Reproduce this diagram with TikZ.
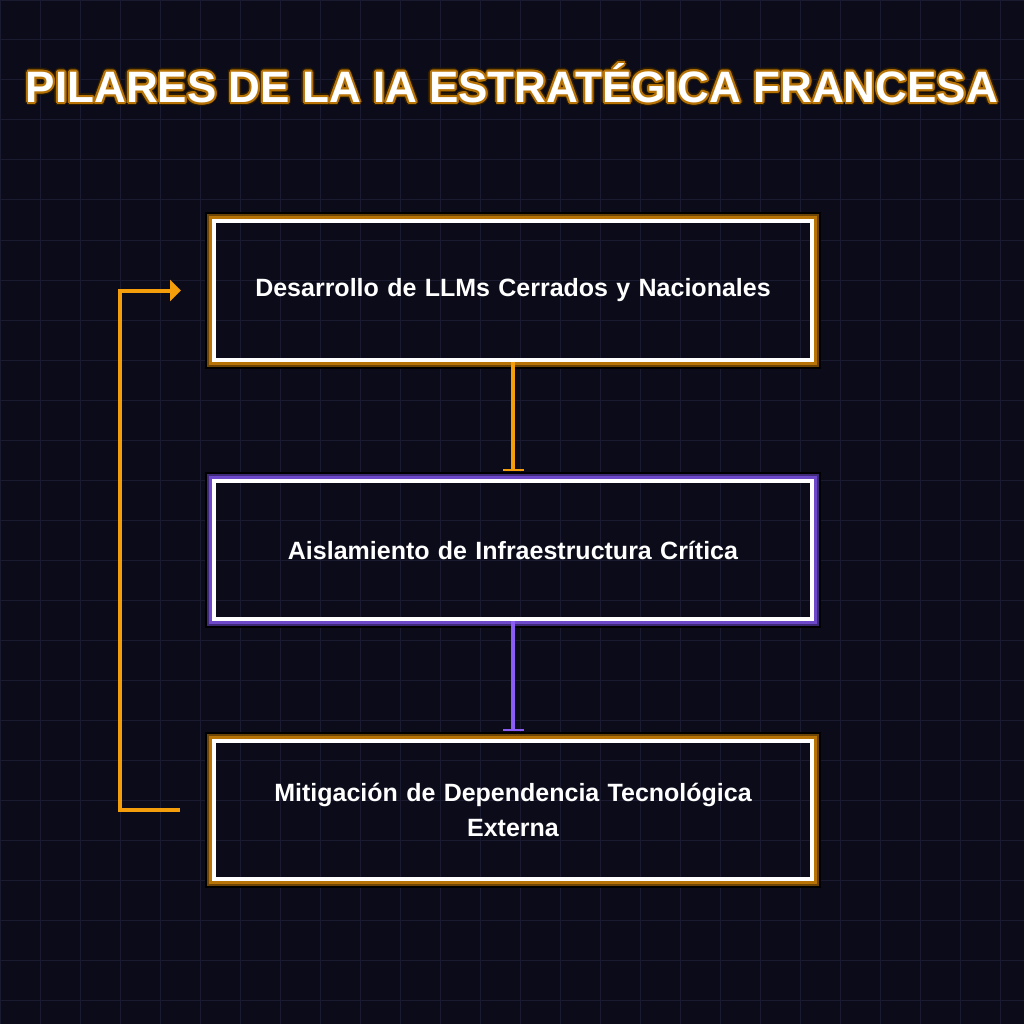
\documentclass[tikz,border=0pt]{standalone}
\usepackage{fontspec}
\setmainfont{Liberation Sans}
\usetikzlibrary{arrows.meta}
\definecolor{bgcol}{HTML}{0B0B1A}
\definecolor{gridcol}{HTML}{1A1A30}
\definecolor{amber}{HTML}{F59E0B}
\definecolor{amberglow}{HTML}{B87306}
\definecolor{amberdark}{HTML}{6E4505}
\definecolor{violet}{HTML}{8B5CF6}
\definecolor{violetglow}{HTML}{6D48C8}
\definecolor{violetdark}{HTML}{3E2A78}
\tikzset{
  pillar/.style={draw=white, line width=4pt, minimum width=598pt, minimum height=138pt,
    text width=560pt, align=center, text=white, font=\bfseries\fontsize{25}{35}\selectfont},
  link/.style={draw=#1, line width=4pt, -{Bar[width=21pt,line width=2pt]}},
  headline/.style={font=\bfseries\fontsize{44}{52}\selectfont, text=#1},
}
\begin{document}
\begin{tikzpicture}[x=1pt,y=-1pt]
\fill[bgcol] (0,0) rectangle (1024,1024);
\useasboundingbox (0,0) rectangle (1024,1024);
\draw[gridcol, line width=1pt, step=40pt] (0,0) grid (1024,1024);

\foreach \a in {0,30,...,330}
  \node[headline=black!60!amberdark] at ([shift={(\a:3.4pt)}]512,83) {PILARES DE LA IA ESTRATÉGICA FRANCESA};
\foreach \a in {0,30,...,330}
  \node[headline=amberglow] at ([shift={(\a:2pt)}]512,83) {PILARES DE LA IA ESTRATÉGICA FRANCESA};
\node[headline=white] (title) at (512,83) {PILARES DE LA IA ESTRATÉGICA FRANCESA};

\node[pillar] (llm) at (513,290.5) {Desarrollo de LLMs Cerrados y Nacionales};
\node[pillar] (infra) at (513,550) {Aislamiento de Infraestructura Crítica};
\node[pillar] (dep) at (513,810) {Mitigación de Dependencia Tecnológica\\Externa};

\foreach \n/\c/\d in {llm/amberglow/amberdark, infra/violetglow/violetdark, dep/amberglow/amberdark} {
  \draw[\c, line width=3pt] ([shift={(-1.5,-1.5)}]\n.north west) rectangle ([shift={(1.5,1.5)}]\n.south east);
  \draw[\d, line width=2pt] ([shift={(-4,-4)}]\n.north west) rectangle ([shift={(4,4)}]\n.south east);
  \draw[black, line width=2pt] ([shift={(-6,-6)}]\n.north west) rectangle ([shift={(6,6)}]\n.south east);
}

\draw[link=amber] (llm.south) -- ([yshift=8pt]infra.north);
\draw[link=violet] (infra.south) -- ([yshift=8pt]dep.north);

\coordinate (fbout) at ([xshift=-32pt]dep.west);
\coordinate (fbin) at ([xshift=-31pt]llm.west);
\draw[amber, line width=4pt, -{Triangle[length=11pt,width=21pt]}]
  (fbout) -- ++(-60,0) |- (fbin);
\end{tikzpicture}
\end{document}
